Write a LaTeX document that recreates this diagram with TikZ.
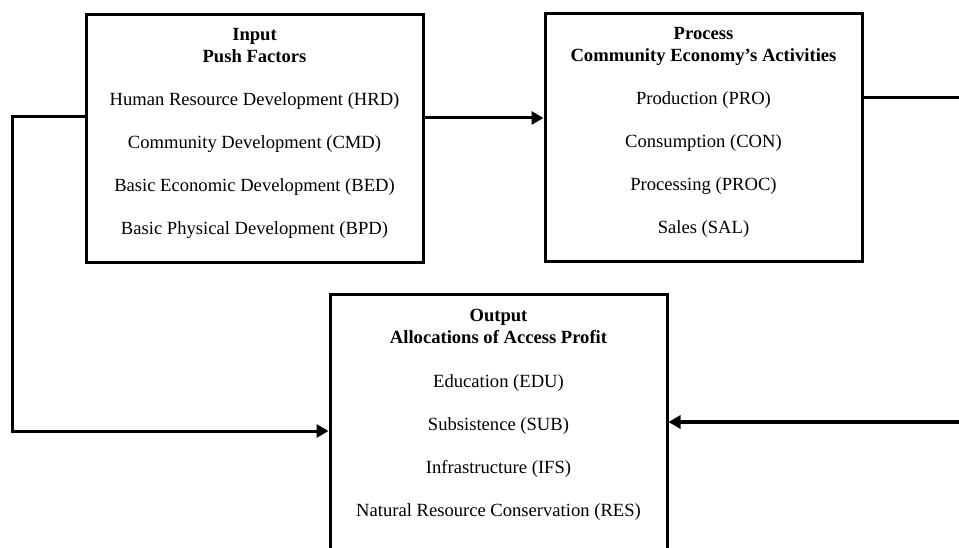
\documentclass[tikz,border=0pt]{standalone}
\usepackage{fontspec}
\setmainfont{Liberation Serif}
\usetikzlibrary{arrows.meta}
\begin{document}
\begin{tikzpicture}[x=1pt,y=-1pt,
  box/.style={draw, line width=3pt, inner sep=0pt, rectangle},
  ttl/.style={font=\fontsize{18.6}{21.5}\selectfont\bfseries, anchor=base, inner sep=0pt},
  itm/.style={font=\fontsize{18.6}{22}\selectfont, anchor=base, inner sep=0pt},
  conn/.style={line width=3pt},
  arr/.style={conn, -{Triangle[length=12pt,width=13pt]}},
]
\useasboundingbox (0,0) rectangle (959,548);
% boxes
\node[box, minimum width=337pt, minimum height=248pt] (inp) at (254.5,139) {};
\node[box, minimum width=317pt, minimum height=248pt] (proc) at (703.5,138) {};
\node[box, minimum width=337pt, minimum height=272pt] (out) at (498.5,431) {};
% input texts
\node[ttl] (i1) at (254.5,41) {Input};
\node[ttl] (i2) at (254.5,63) {Push Factors};
\node[itm] (i3) at (254.5,106) {Human Resource Development (HRD)};
\node[itm] (i4) at (254.5,149) {Community Development (CMD)};
\node[itm] (i5) at (254.5,192) {Basic Economic Development (BED)};
\node[itm] (i6) at (254.5,235) {Basic Physical Development (BPD)};
% process texts
\node[ttl] (p1) at (703.5,40) {Process};
\node[ttl] (p2) at (703.5,62) {Community Economy’s Activities};
\node[itm] (p3) at (703.5,105) {Production (PRO)};
\node[itm] (p4) at (703.5,148) {Consumption (CON)};
\node[itm] (p5) at (703.5,191) {Processing (PROC)};
\node[itm] (p6) at (703.5,234) {Sales (SAL)};
% output texts
\node[ttl] (o1) at (498.5,321) {Output};
\node[ttl] (o2) at (498.5,343) {Allocations of Access Profit};
\node[itm] (o3) at (498.5,387) {Education (EDU)};
\node[itm] (o4) at (498.5,430) {Subsistence (SUB)};
\node[itm] (o5) at (498.5,473) {Infrastructure (IFS)};
\node[itm] (o6) at (498.5,516) {Natural Resource Conservation (RES)};
% connectors
\coordinate (lc) at (12,431);
\coordinate (rt) at (963,98);
\coordinate (rb) at (963,422);
\draw[arr] ([yshift=21pt]inp.east) -- ([yshift=20pt]proc.west);
\draw[arr] ([yshift=22pt]inp.west) -| (lc) -- (out.west);
\draw[conn] ([yshift=40pt]proc.east) -- (rt);
\draw[arr, line width=4.5pt] (rb) -- ([yshift=9pt]out.east);
\end{tikzpicture}
\end{document}
